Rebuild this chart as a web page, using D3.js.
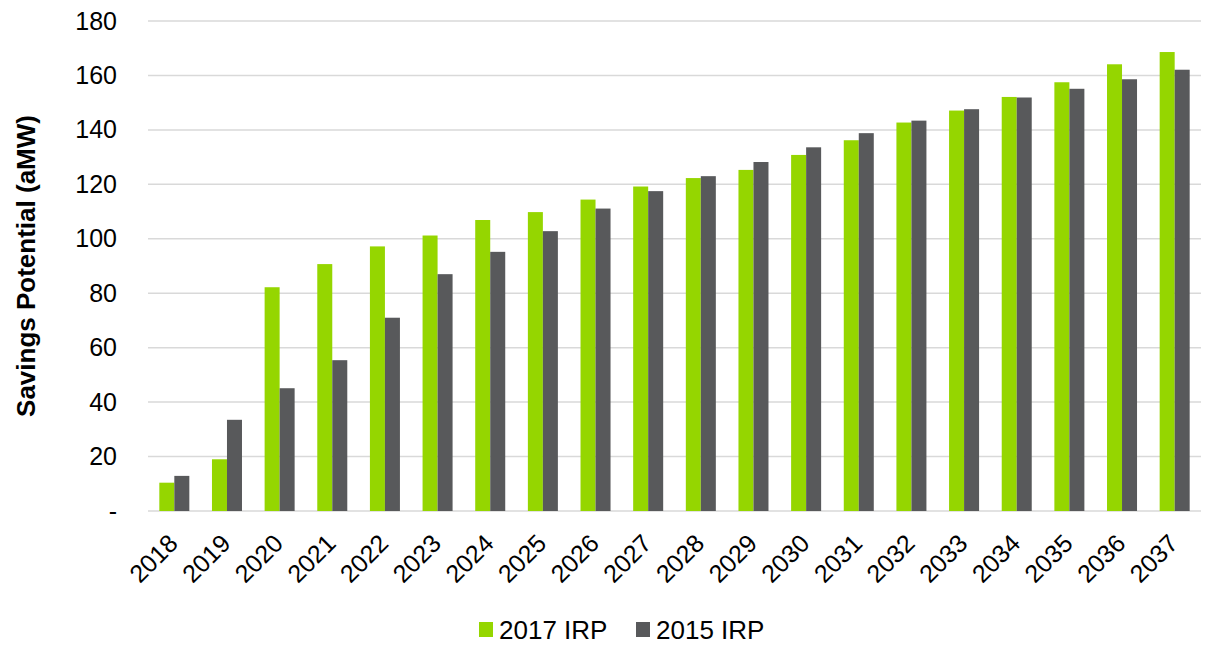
<!DOCTYPE html>
<html>
<head>
<meta charset="utf-8">
<script src="https://cdn.jsdelivr.net/npm/d3@7"></script>
<style>
  body { margin: 0; background: #fff; }
  text { font-family: "Liberation Sans", Arial, sans-serif; fill: #000; }
</style>
</head>
<body>
<div id="chart-container"></div>
<script>
const years = ['2018','2019','2020','2021','2022','2023','2024','2025','2026','2027',
  '2028','2029','2030','2031','2032','2033','2034','2035','2036','2037'];
const irp2017 = [10.4, 19.0, 82.2, 90.7, 97.2, 101.2, 106.9, 109.8, 114.4, 119.2,
  122.3, 125.3, 130.8, 136.2, 142.7, 147.1, 152.1, 157.5, 164.1, 168.6];
const irp2015 = [12.9, 33.5, 45.1, 55.4, 71.0, 87.0, 95.2, 102.8, 111.1, 117.5,
  123.0, 128.2, 133.6, 138.8, 143.4, 147.6, 151.9, 155.1, 158.6, 162.1];
const seriesNames = ['2017 IRP', '2015 IRP'];
const colors = ['#95d600', '#58595b'];
const yTicks = [0, 20, 40, 60, 80, 100, 120, 140, 160, 180];

const svg = d3.select('#chart-container')
  .append('svg')
  .attr('width', 1205)
  .attr('height', 645);

const margin = { top: 21, right: 4, bottom: 134, left: 148 };
const width = +svg.attr('width') - margin.left - margin.right;
const height = +svg.attr('height') - margin.top - margin.bottom;

const x = d3.scaleBand()
  .range([0, width])
  .domain(years);

const x1 = d3.scaleBand()
  .domain(seriesNames)
  .range([x.bandwidth() * 0.215, x.bandwidth() * 0.785]);

const y = d3.scaleLinear()
  .range([height, 0])
  .domain([0, 180]);

const g = svg.append('g')
  .attr('transform', `translate(${margin.left},${margin.top})`);

// gridlines
g.selectAll('.grid')
  .data(yTicks)
  .enter().append('line')
  .attr('x1', 0)
  .attr('x2', width)
  .attr('y1', d => y(d))
  .attr('y2', d => y(d))
  .attr('stroke', '#d9d9d9')
  .attr('stroke-width', 1.5);

// y axis labels
const yAxis = g.append('g')
  .call(d3.axisLeft(y).tickValues(yTicks).tickSize(0).tickPadding(31)
    .tickFormat(d => d === 0 ? '-' : d));
yAxis.select('.domain').remove();
yAxis.selectAll('text')
  .style('font-size', '25px')
  .style('font-family', '"Liberation Sans", Arial, sans-serif')
  .attr('fill', '#000');

// x axis labels
const xAxis = g.append('g')
  .attr('transform', `translate(0,${height})`)
  .call(d3.axisBottom(x).tickSize(0));
xAxis.select('.domain').remove();
xAxis.selectAll('text')
  .style('font-size', '25px')
  .style('font-family', '"Liberation Sans", Arial, sans-serif')
  .attr('fill', '#000')
  .attr('text-anchor', 'end')
  .attr('dy', null)
  .attr('y', 0)
  .attr('transform', 'translate(5,34) rotate(-45)');

// bars
const rows = years.map((yr, i) => ({ year: yr, values: [irp2017[i], irp2015[i]] }));

const groups = g.selectAll('.year')
  .data(rows)
  .enter().append('g')
  .attr('transform', d => `translate(${x(d.year)},0)`);

groups.selectAll('rect')
  .data(d => d.values.map((v, k) => ({ name: seriesNames[k], value: v, k })))
  .enter().append('rect')
  .attr('x', d => x1(d.name))
  .attr('y', d => y(d.value))
  .attr('width', x1.bandwidth())
  .attr('height', d => y(0) - y(d.value))
  .attr('fill', d => colors[d.k]);

// y axis title
svg.append('text')
  .attr('transform', 'translate(35,266) rotate(-90)')
  .attr('text-anchor', 'middle')
  .style('font-size', '26px')
  .style('font-weight', 'bold')
  .text('Savings Potential (aMW)');

// legend
const legendX = [479, 636];
const legend = svg.selectAll('.legend')
  .data(seriesNames)
  .enter().append('g')
  .attr('transform', (d, i) => `translate(${legendX[i]},622)`);

legend.append('rect')
  .attr('width', 14)
  .attr('height', 15)
  .attr('fill', (d, i) => colors[i]);

legend.append('text')
  .attr('x', 20)
  .attr('y', 17)
  .style('font-size', '26px')
  .text(d => d);
</script>
</body>
</html>
